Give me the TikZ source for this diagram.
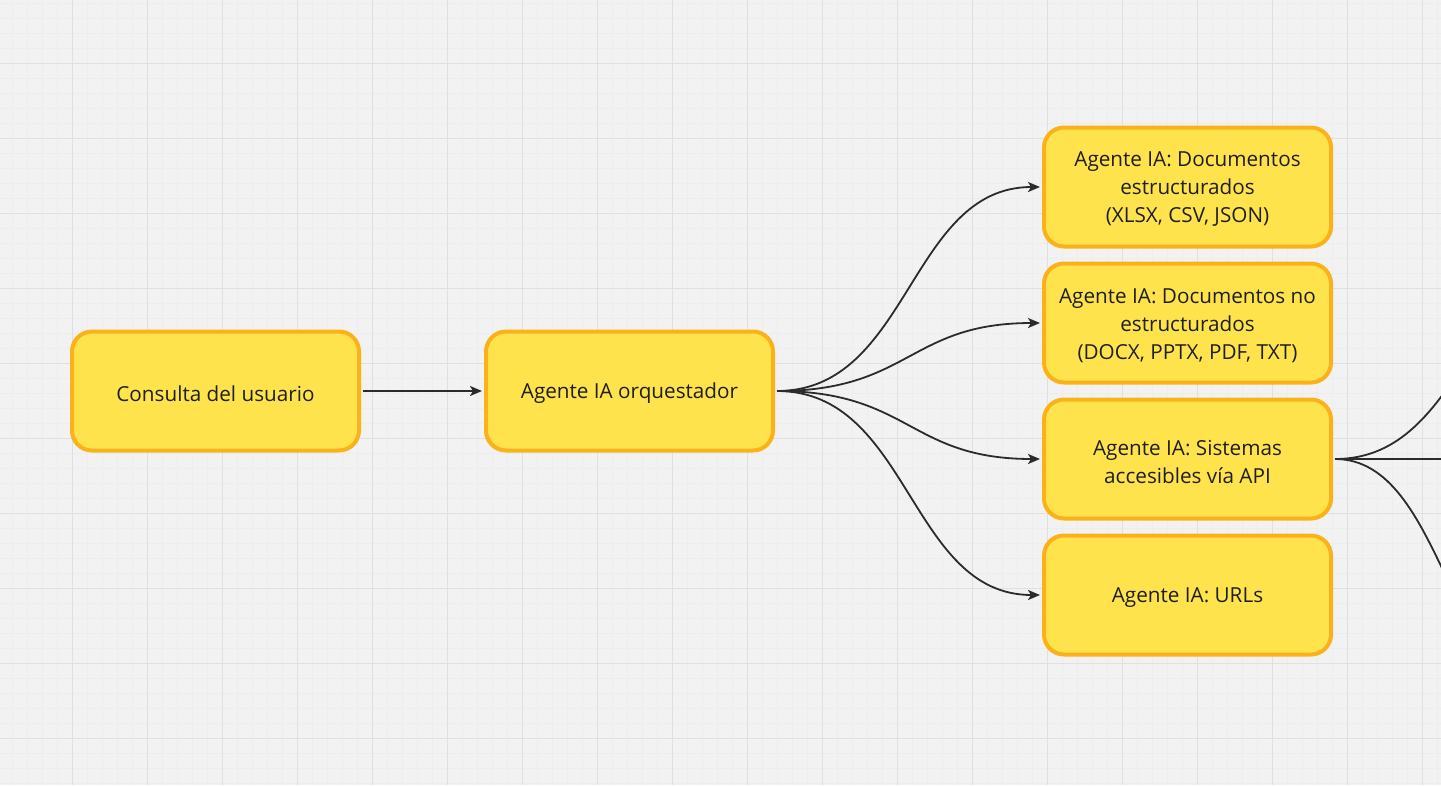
\documentclass[tikz,border=0pt]{standalone}
\usepackage{fontspec}
\setmainfont{Open Sans}
\usetikzlibrary{arrows.meta}
\definecolor{bg}{HTML}{F2F2F2}
\definecolor{gridminor}{HTML}{EDEDED}
\definecolor{gridmajor}{HTML}{E0E0E0}
\definecolor{boxfill}{HTML}{FFE34D}
\definecolor{boxline}{HTML}{FBB21A}
\definecolor{txt}{HTML}{1F1F1F}
\definecolor{lnk}{HTML}{2B2B2B}
\tikzset{
  agentbox/.style={draw=boxline, fill=boxfill, line width=4pt, rounded corners=20pt,
    minimum width=287pt, minimum height=119pt, inner sep=0pt,
    label={[align=center, text=txt, font=\fontsize{20.7}{28}\selectfont, yshift=-2.5pt]center:{#1}}},
  conn/.style={draw=lnk, line width=1.8pt, -{Stealth[length=12pt,width=10pt,inset=3pt]}},
  connplain/.style={draw=lnk, line width=1.8pt}
}
\begin{document}
\begin{tikzpicture}[x=1pt,y=-1pt]
\useasboundingbox (0,0) rectangle (1441,785);
\clip (0,0) rectangle (1441,785);
\fill[bg] (0,0) rectangle (1441,785);
% minor grid
\foreach \i in {0,...,96} {\draw[gridminor, line width=0.8pt] ({-2.3+15*\i},0) -- ({-2.3+15*\i},785);}
\foreach \j in {0,...,53} {\draw[gridminor, line width=0.8pt] (0,{3.3+15*\j}) -- (1441,{3.3+15*\j});}
% major grid
\foreach \i in {0,...,19} {\draw[gridmajor, line width=1pt] ({-2.3+75*\i},0) -- ({-2.3+75*\i},785);}
\foreach \j in {0,...,10} {\draw[gridmajor, line width=1pt] (0,{-11.7+75*\j}) -- (1441,{-11.7+75*\j});}

\node[agentbox={Consulta del usuario}] (user) at (215.5,391) {};
\node[agentbox={Agente IA orquestador}] (orch) at (629.5,391) {};
\node[agentbox={Agente IA: Documentos\\estructurados\\(XLSX, CSV, JSON)}] (b1) at (1187.5,187) {};
\node[agentbox={Agente IA: Documentos no\\estructurados\\(DOCX, PPTX, PDF, TXT)}] (b2) at (1187.5,323) {};
\node[agentbox={Agente IA: Sistemas\\accesibles vía API}] (b3) at (1187.5,459) {};
\node[agentbox={Agente IA: URLs}] (b4) at (1187.5,595) {};

\coordinate (r1) at (1602,255);
\coordinate (r2) at (1700,459);
\coordinate (r3) at (1557,694);

\draw[conn, shorten >=2pt, shorten <=2pt] (user.east) -- (orch.west);
\foreach \b in {b1,b2,b3,b4} {
  \draw[conn, shorten >=2pt] ([xshift=2pt]orch.east) .. controls +(133,0) and +(-133,0) .. (\b.west);
}
\draw[connplain] ([xshift=2pt]b3.east) .. controls +(133,0) and +(-133,0) .. (r1);
\draw[connplain] ([xshift=2pt]b3.east) -- (r2);
\draw[connplain] ([xshift=2pt]b3.east) .. controls +(110,0) and +(-110,0) .. (r3);
\end{tikzpicture}
\end{document}
